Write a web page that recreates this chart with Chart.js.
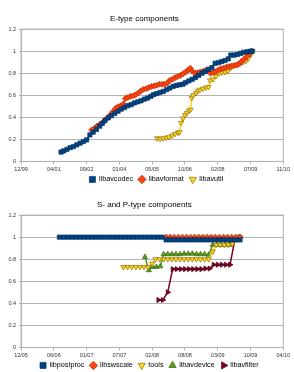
<!DOCTYPE html>
<html>
<head>
<meta charset="utf-8">
<script src="https://cdn.jsdelivr.net/npm/chart.js@4"></script>
<style>
  html, body { margin: 0; padding: 0; background: #fff; }
  canvas { display: block; }
</style>
</head>
<body>
<canvas id="eChart" width="294" height="186"></canvas>
<canvas id="spChart" width="294" height="186"></canvas>
<script>
// x values are spreadsheet day numbers (days since 1899-12-30)
const eTickLabels = ["12/99", "04/01", "09/02", "01/04", "05/05", "10/06", "02/08", "07/09", "11/10"];
const spTickLabels = ["12/05", "06/06", "01/07", "07/07", "02/08", "08/08", "03/09", "10/09", "04/10"];
const yTickLabels = ["0", "0.2", "0.4", "0.6", "0.8", "1", "1.2"];

// E-type components
const avcodecX = [37110, 37150, 37200, 37250, 37300, 37350, 37400, 37450, 37500, 37550, 37600, 37650, 37700, 37740, 37780, 37830, 37880, 37930, 37980, 38030, 38080, 38130, 38180, 38230, 38280, 38330, 38380, 38430, 38480, 38520, 38570, 38620, 38670, 38720, 38770, 38820, 38870, 38920, 38970, 39010, 39060, 39110, 39160, 39210, 39260, 39310, 39360, 39410, 39460, 39510, 39560, 39610, 39660, 39700, 39750, 39800, 39850, 39900, 39950, 40000, 40026];
const avcodecY = [0.085, 0.095, 0.11, 0.125, 0.135, 0.15, 0.165, 0.18, 0.195, 0.24, 0.265, 0.29, 0.32, 0.345, 0.37, 0.395, 0.415, 0.435, 0.455, 0.475, 0.49, 0.505, 0.515, 0.53, 0.54, 0.55, 0.565, 0.575, 0.59, 0.605, 0.615, 0.625, 0.635, 0.65, 0.665, 0.68, 0.69, 0.695, 0.70, 0.715, 0.73, 0.745, 0.76, 0.78, 0.80, 0.815, 0.835, 0.85, 0.89, 0.895, 0.905, 0.915, 0.93, 0.965, 0.965, 0.97, 0.98, 0.99, 0.995, 1.0, 1.0];

const avformatX = [37577, 37620, 37660, 37700, 37740, 37780, 37820, 37860, 37900, 37940, 37980, 38020, 38060, 38090, 38130, 38170, 38210, 38250, 38290, 38330, 38370, 38410, 38450, 38490, 38530, 38570, 38610, 38650, 38690, 38730, 38770, 38810, 38850, 38890, 38930, 38970, 39010, 39050, 39080, 39110, 39150, 39190, 39230, 39270, 39310, 39350, 39390, 39430, 39470, 39510, 39550, 39590, 39630, 39670, 39710, 39750, 39790, 39830, 39860, 39900, 39940, 39980, 40016];
const avformatY = [0.285, 0.30, 0.32, 0.335, 0.35, 0.375, 0.395, 0.42, 0.45, 0.48, 0.495, 0.505, 0.52, 0.57, 0.58, 0.59, 0.595, 0.605, 0.62, 0.64, 0.655, 0.66, 0.67, 0.68, 0.685, 0.69, 0.70, 0.70, 0.70, 0.71, 0.735, 0.745, 0.76, 0.77, 0.78, 0.795, 0.81, 0.83, 0.845, 0.82, 0.80, 0.805, 0.81, 0.815, 0.825, 0.83, 0.80, 0.805, 0.815, 0.83, 0.84, 0.845, 0.855, 0.86, 0.865, 0.87, 0.875, 0.885, 0.905, 0.925, 0.95, 0.975, 1.0];

const avutilX = [38574, 38620, 38666, 38711, 38757, 38803, 38848, 38894, 38917, 38940, 38970, 39001, 39031, 39062, 39085, 39103, 39127, 39169, 39199, 39230, 39275, 39321, 39359, 39382, 39428, 39474, 39520, 39565, 39611, 39657, 39703, 39748, 39794, 39840, 39885, 39931, 39969, 40007, 40030];
const avutilY = [0.21, 0.205, 0.21, 0.215, 0.22, 0.235, 0.25, 0.26, 0.265, 0.35, 0.39, 0.42, 0.44, 0.46, 0.47, 0.575, 0.60, 0.62, 0.64, 0.65, 0.66, 0.67, 0.675, 0.735, 0.745, 0.775, 0.80, 0.805, 0.81, 0.82, 0.85, 0.87, 0.875, 0.89, 0.90, 0.91, 0.935, 0.97, 1.0];

// S- and P-type components
const postprocX = [38924, 38950, 38975, 39000, 39025, 39050, 39075, 39100, 39125, 39150, 39175, 39200, 39225, 39250, 39275, 39300, 39325, 39350, 39375, 39400, 39425, 39450, 39475, 39500, 39525, 39550, 39575, 39600, 39625, 39650, 39675, 39700, 39725, 39750, 39775, 39800, 39825, 39850, 39875, 39900, 39925, 39950, 39975, 40000, 40026];
const postprocY = [1, 1, 1, 1, 1, 1, 1, 1, 1, 1, 1, 1, 1, 1, 1, 1, 1, 1, 1, 1, 1, 1, 1, 1, 1, 1, 0.975, 0.975, 0.975, 0.975, 0.975, 0.975, 0.975, 0.975, 0.975, 0.975, 0.975, 0.975, 0.975, 0.975, 0.975, 0.975, 0.975, 0.975, 0.975];

const swscaleX = [39575, 39600, 39625, 39650, 39675, 39700, 39725, 39750, 39775, 39800, 39825, 39850, 39875, 39900, 39925, 39950, 39975, 40000, 40026];
const swscaleY = [1, 1, 1, 1, 1, 1, 1, 1, 1, 1, 1, 1, 1, 1, 1, 1, 1, 1, 1];

const toolsX = [39314, 39340, 39365, 39390, 39415, 39440, 39465, 39490, 39510, 39535, 39560, 39585, 39610, 39635, 39660, 39685, 39710, 39735, 39760, 39785, 39810, 39835, 39860, 39880, 39905, 39930, 39955, 39980, 40005, 40026];
const toolsY = [0.73, 0.73, 0.73, 0.73, 0.73, 0.73, 0.73, 0.76, 0.80, 0.80, 0.80, 0.80, 0.80, 0.80, 0.80, 0.80, 0.80, 0.80, 0.80, 0.80, 0.80, 0.80, 0.87, 0.93, 0.93, 0.93, 0.93, 0.94, 0.98, 1.0];

const avdeviceX = [39446, 39470, 39490, 39515, 39540, 39560, 39585, 39610, 39635, 39660, 39685, 39710, 39735, 39760, 39785, 39810, 39835, 39860, 39885, 39910, 39935, 39960, 39990, 40026];
const avdeviceY = [0.82, 0.70, 0.73, 0.73, 0.735, 0.845, 0.845, 0.845, 0.845, 0.845, 0.85, 0.85, 0.85, 0.845, 0.845, 0.845, 0.84, 0.93, 0.93, 0.93, 0.93, 0.93, 0.98, 1.0];

const avfilterX = [39528, 39555, 39585, 39615, 39640, 39665, 39690, 39715, 39740, 39765, 39790, 39815, 39840, 39865, 39890, 39915, 39940, 39965, 39995, 40026];
const avfilterY = [0.43, 0.43, 0.50, 0.71, 0.71, 0.71, 0.71, 0.71, 0.71, 0.71, 0.71, 0.715, 0.715, 0.75, 0.75, 0.75, 0.75, 0.75, 0.98, 1.0];

const FONT = "'Liberation Sans', Arial, sans-serif";
const GRID = "#b3b3b3";

function series(label, xs, ys, color, edge, style, rotation) {
  return {
    label: label,
    data: xs.map((x, i) => ({ x: x, y: ys[i] })),
    borderColor: color,
    backgroundColor: color,
    borderWidth: 1.5,
    pointStyle: style,
    pointRotation: rotation,
    pointRadius: 3,
    pointBackgroundColor: color,
    pointBorderColor: edge,
    pointBorderWidth: 0.7,
    tension: 0,
  };
}

// plot-area frame like the spreadsheet chart
const framePlugin = {
  id: "frame",
  beforeDatasetsDraw(chart) {
    const a = chart.chartArea;
    const ctx = chart.ctx;
    ctx.save();
    ctx.strokeStyle = GRID;
    ctx.lineWidth = 1;
    ctx.strokeRect(a.left, a.top, a.right - a.left, a.bottom - a.top);
    ctx.restore();
  },
};

// squeeze the legend into the bottom strip and nudge it sideways
const legendPlugin = {
  id: "legendSpot",
  beforeInit(chart) {
    const lg = chart.legend;
    const fit = lg.fit;
    lg.fit = function () {
      fit.call(this);
      this.height = 11;
    };
  },
  afterLayout(chart, args, opts) {
    const lg = chart.legend;
    lg.top = 169.8;
    lg.left += opts.dx;
    lg.right += opts.dx;
  },
};

function makeOptions(title, min, max, step, labels, dx) {
  return {
    responsive: false,
    animation: false,
    layout: { padding: { left: 5.4, right: 10.7, top: 0, bottom: 0 } },
    plugins: {
      title: {
        display: true,
        text: title,
        color: "#000",
        font: { family: FONT, size: 8, weight: "normal" },
        padding: { top: 13.5, bottom: 6 },
      },
      legend: {
        position: "bottom",
        labels: {
          usePointStyle: true,
          boxWidth: 6,
          boxHeight: 6,
          padding: 6,
          color: "#000",
          font: { family: FONT, size: 7.2 },
        },
      },
      legendSpot: { dx: dx },
      tooltip: { enabled: false },
    },
    scales: {
      x: {
        type: "linear",
        min: min,
        max: max,
        afterFit: (s) => { s.height = 13.6; },
        ticks: {
          stepSize: step,
          autoSkip: false,
          maxRotation: 0,
          padding: 2,
          color: "#333",
          font: { family: FONT, size: 5.5 },
          callback: (v, i) => labels[i],
        },
        grid: { drawOnChartArea: false, tickLength: 3, color: GRID },
        border: { color: GRID },
      },
      y: {
        min: 0,
        max: 1.2,
        ticks: {
          stepSize: 0.2,
          padding: 3,
          color: "#333",
          font: { family: FONT, size: 5.5 },
          callback: (v, i) => yTickLabels[i],
        },
        grid: { color: GRID, tickLength: 2 },
        border: { color: GRID },
      },
    },
  };
}

new Chart(document.getElementById("eChart").getContext("2d"), {
  type: "line",
  data: {
    datasets: [
      series("libavcodec", avcodecX, avcodecY, "#004586", "#00305e", "rect", 0),
      series("libavformat", avformatX, avformatY, "#ff420e", "#b02a05", "rectRot", 0),
      series("libavutil", avutilX, avutilY, "#ffd320", "#8c7308", "triangle", 180),
    ],
  },
  options: makeOptions("E-type components", 36500, 40500, 500, eTickLabels, 12),
  plugins: [framePlugin, legendPlugin],
});

new Chart(document.getElementById("spChart").getContext("2d"), {
  type: "line",
  data: {
    datasets: [
      series("libpostproc", postprocX, postprocY, "#004586", "#00305e", "rect", 0),
      series("libswscale", swscaleX, swscaleY, "#ff420e", "#b02a05", "rectRot", 0),
      series("tools", toolsX, toolsY, "#ffd320", "#8c7308", "triangle", 180),
      series("libavdevice", avdeviceX, avdeviceY, "#579d1c", "#3a6a12", "triangle", 0),
      series("libavfilter", avfilterX, avfilterY, "#7e0021", "#4f0014", "triangle", 90),
    ],
  },
  options: makeOptions("S- and P-type components", 38690, 40290, 200, spTickLabels, 5),
  plugins: [framePlugin, legendPlugin],
});
</script>
</body>
</html>
